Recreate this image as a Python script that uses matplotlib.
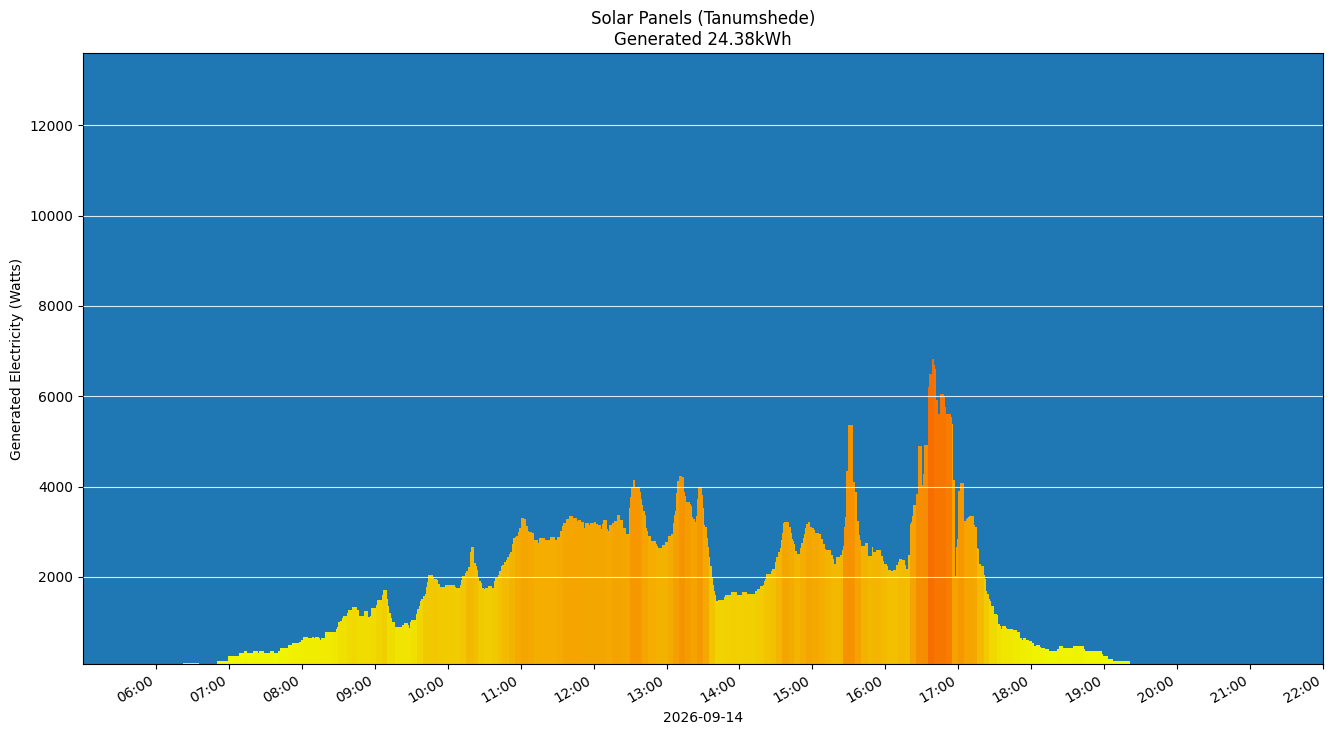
import numpy as np
import matplotlib
matplotlib.use('Agg')
import matplotlib.pyplot as plt
import matplotlib.dates as mdates
from matplotlib.colors import LinearSegmentedColormap


day = '2026-09-14'
title = 'Solar Panels (Tanumshede)\nGenerated 24.38kWh'
end_time = '19:21'

# start of each reading and the power held until the next reading
times = [
    '06:22', '06:35', '06:50', '06:59', '07:08', '07:12', '07:15', '07:20', '07:24', '07:25',
    '07:29', '07:34', '07:37', '07:40', '07:42', '07:49', '07:52', '07:58', '07:59', '08:01',
    '08:05', '08:08', '08:10', '08:11', '08:14', '08:15', '08:16', '08:19', '08:24', '08:25',
    '08:28', '08:29', '08:30', '08:31', '08:33', '08:34', '08:37', '08:38', '08:41', '08:45',
    '08:47', '08:51', '08:54', '08:56', '08:57', '09:01', '09:02', '09:06', '09:07', '09:10',
    '09:11', '09:12', '09:13', '09:14', '09:17', '09:22', '09:24', '09:27', '09:28', '09:29',
    '09:30', '09:34', '09:35', '09:36', '09:37', '09:38', '09:40', '09:41', '09:42', '09:43',
    '09:44', '09:48', '09:49', '09:51', '09:52', '09:54', '09:58', '10:03', '10:06', '10:07',
    '10:10', '10:11', '10:12', '10:14', '10:15', '10:17', '10:18', '10:19', '10:22', '10:23',
    '10:24', '10:25', '10:26', '10:27', '10:28', '10:30', '10:31', '10:33', '10:36', '10:38',
    '10:39', '10:41', '10:42', '10:44', '10:45', '10:46', '10:48', '10:49', '10:50', '10:51',
    '10:53', '10:54', '10:55', '10:56', '10:58', '10:59', '11:00', '11:03', '11:04', '11:06',
    '11:07', '11:09', '11:11', '11:14', '11:15', '11:20', '11:21', '11:24', '11:28', '11:30',
    '11:32', '11:34', '11:35', '11:37', '11:40', '11:43', '11:46', '11:47', '11:50', '11:52',
    '11:53', '11:56', '11:57', '12:00', '12:02', '12:04', '12:06', '12:07', '12:08', '12:11',
    '12:12', '12:13', '12:15', '12:17', '12:19', '12:22', '12:24', '12:27', '12:29', '12:30',
    '12:31', '12:32', '12:34', '12:38', '12:39', '12:40', '12:41', '12:42', '12:43', '12:44',
    '12:45', '12:47', '12:51', '12:52', '12:53', '12:56', '12:59', '13:01', '13:04', '13:05',
    '13:06', '13:07', '13:08', '13:09', '13:10', '13:13', '13:14', '13:15', '13:16', '13:19',
    '13:20', '13:21', '13:22', '13:23', '13:24', '13:25', '13:26', '13:29', '13:30', '13:31',
    '13:32', '13:33', '13:34', '13:35', '13:36', '13:37', '13:38', '13:39', '13:40', '13:41',
    '13:42', '13:47', '13:48', '13:53', '13:58', '14:02', '14:06', '14:13', '14:14', '14:17',
    '14:19', '14:20', '14:21', '14:22', '14:26', '14:27', '14:29', '14:30', '14:32', '14:33',
    '14:34', '14:35', '14:36', '14:37', '14:41', '14:42', '14:43', '14:44', '14:45', '14:46',
    '14:47', '14:50', '14:51', '14:52', '14:53', '14:54', '14:55', '14:56', '14:58', '15:00',
    '15:01', '15:02', '15:05', '15:07', '15:09', '15:10', '15:11', '15:15', '15:17', '15:18',
    '15:19', '15:23', '15:24', '15:25', '15:26', '15:27', '15:28', '15:29', '15:33', '15:35',
    '15:37', '15:38', '15:39', '15:40', '15:43', '15:46', '15:49', '15:50', '15:52', '15:56',
    '15:58', '15:59', '16:01', '16:02', '16:05', '16:06', '16:09', '16:10', '16:11', '16:14',
    '16:16', '16:17', '16:19', '16:20', '16:21', '16:22', '16:23', '16:25', '16:27', '16:30',
    '16:31', '16:32', '16:33', '16:35', '16:36', '16:38', '16:40', '16:41', '16:42', '16:43',
    '16:45', '16:48', '16:49', '16:50', '16:54', '16:55', '16:56', '16:57', '16:58', '16:59',
    '17:00', '17:01', '17:05', '17:06', '17:07', '17:08', '17:09', '17:13', '17:14', '17:15',
    '17:16', '17:17', '17:19', '17:21', '17:22', '17:23', '17:24', '17:25', '17:26', '17:27',
    '17:29', '17:32', '17:33', '17:34', '17:35', '17:36', '17:39', '17:40', '17:45', '17:48',
    '17:51', '17:52', '17:53', '17:56', '17:58', '18:01', '18:02', '18:04', '18:07', '18:08',
    '18:11', '18:15', '18:21', '18:23', '18:26', '18:34', '18:43', '18:44', '18:58', '18:59',
    '19:03', '19:07',
]

watts = [
    90, 0, 140, 250, 310, 360, 310, 360, 310, 360,
    310, 360, 310, 360, 420, 490, 530, 560, 610, 670,
    640, 670, 640, 670, 640, 610, 640, 780, 770, 780,
    840, 890, 1000, 1020, 1080, 1130, 1190, 1260, 1330, 1260,
    1130, 1240, 1110, 1130, 1300, 1370, 1480, 1590, 1720, 1520,
    1350, 1190, 1080, 1000, 890, 930, 970, 930, 860, 1000,
    1040, 1170, 1280, 1350, 1460, 1520, 1570, 1630, 1770, 1880,
    2050, 2000, 1960, 1920, 1850, 1770, 1810, 1820, 1780, 1760,
    1820, 1940, 2030, 2090, 2130, 2210, 2560, 2670, 2310, 2250,
    2160, 2000, 1900, 1870, 1760, 1740, 1760, 1790, 1760, 1900,
    1985, 2050, 2120, 2230, 2270, 2340, 2380, 2450, 2500, 2560,
    2730, 2850, 2890, 2910, 3000, 3090, 3310, 3280, 3130, 3020,
    3000, 2970, 2820, 2760, 2860, 2820, 2810, 2880, 2820, 2880,
    3020, 3130, 3190, 3280, 3350, 3310, 3230, 3260, 3220, 3090,
    3190, 3150, 3200, 3220, 3170, 3140, 3070, 3160, 3260, 3070,
    3020, 3140, 3200, 3240, 3370, 3260, 3090, 2960, 3530, 3770,
    3990, 4140, 3990, 3880, 3720, 3590, 3460, 3370, 3090, 3020,
    2910, 2800, 2730, 2690, 2650, 2710, 2780, 2910, 2950, 3200,
    3370, 3460, 3860, 4120, 4230, 4210, 3880, 3790, 3660, 3610,
    3570, 3330, 3280, 3220, 3350, 3720, 3990, 3810, 3530, 3150,
    3110, 2870, 2670, 2450, 2230, 1990, 1810, 1680, 1590, 1460,
    1480, 1550, 1590, 1660, 1590, 1660, 1610, 1680, 1740, 1790,
    1830, 1900, 1960, 2070, 2120, 2180, 2320, 2430, 2540, 2650,
    2820, 2980, 3200, 3220, 3110, 2980, 2840, 2800, 2720, 2580,
    2510, 2650, 2760, 2870, 2950, 3090, 3170, 3220, 3110, 3090,
    3040, 2980, 2950, 2840, 2730, 2620, 2600, 2490, 2400, 2290,
    2450, 2490, 2600, 2690, 3110, 3330, 4340, 5370, 4100, 3880,
    3240, 2930, 2820, 2690, 2760, 2470, 2670, 2560, 2600, 2470,
    2360, 2290, 2230, 2160, 2120, 2160, 2270, 2320, 2400, 2380,
    2270, 2180, 2490, 3170, 3220, 3350, 3590, 3830, 4890, 4030,
    4270, 4910, 4930, 6210, 6490, 6820, 6690, 6600, 5920, 5610,
    6050, 6010, 5770, 5610, 5550, 5390, 4140, 2030, 2670, 2840,
    3900, 4070, 3240, 3280, 3310, 3330, 3350, 3150, 3110, 2650,
    2620, 2290, 2230, 2050, 1960, 1680, 1610, 1520, 1460, 1350,
    1170, 1150, 950, 910, 840, 910, 860, 840, 820, 780,
    640, 600, 640, 600, 580, 530, 470, 490, 450, 420,
    400, 360, 400, 470, 420, 470, 400, 360, 290, 250,
    180, 140,
]


def to_min(t):
    return int(t[:2]) * 60 + int(t[3:])


vals = np.array(watts, dtype=float)
mins = np.array([to_min(t) for t in times])
dur = np.diff(np.append(mins, to_min(end_time)))

x = np.array([day + 'T' + t for t in times], dtype='datetime64[m]')
starts = mdates.date2num(x)
widths = dur / (24 * 60)

# colour by 5 minute block average
blk = mins // 5
means = np.zeros(len(vals))
for b in np.unique(blk):
    m = blk == b
    means[m] = np.average(vals[m], weights=dur[m])

cmap = LinearSegmentedColormap.from_list('sun', [
    (0.0, '#f0ff00'),
    (0.08, '#f0f000'),
    (0.19, '#f0d800'),
    (0.43, '#f4aa00'),
    (0.72, '#f78600'),
    (1.0, '#f76800'),
])
colors = cmap(np.clip(means / 6900, 0, 1))

fig, ax = plt.subplots(figsize=(13.33, 7.36), dpi=100)
fig.subplots_adjust(left=0.0623, right=0.9925, top=0.928, bottom=0.0978)

ax.set_facecolor('#1f77b4')
ax.bar(starts, vals, width=widths, align='edge', color=colors, linewidth=0)

ax.set_axisbelow(False)
ax.yaxis.grid(True, color='white', linewidth=0.8, alpha=0.85)

ax.set_ylim(70, 13600)
ax.set_xlim(mdates.date2num(np.datetime64(day + 'T05:00')),
            mdates.date2num(np.datetime64(day + 'T22:00')))
ax.xaxis.set_major_locator(mdates.HourLocator(byhour=range(6, 23)))
ax.xaxis.set_major_formatter(mdates.DateFormatter('%H:%M'))
plt.setp(ax.get_xticklabels(), rotation=30, ha='right')

ax.set_xlabel(day)
ax.set_ylabel('Generated Electricity (Watts)')
ax.set_title(title)

fig.savefig('out.png', dpi=100)
